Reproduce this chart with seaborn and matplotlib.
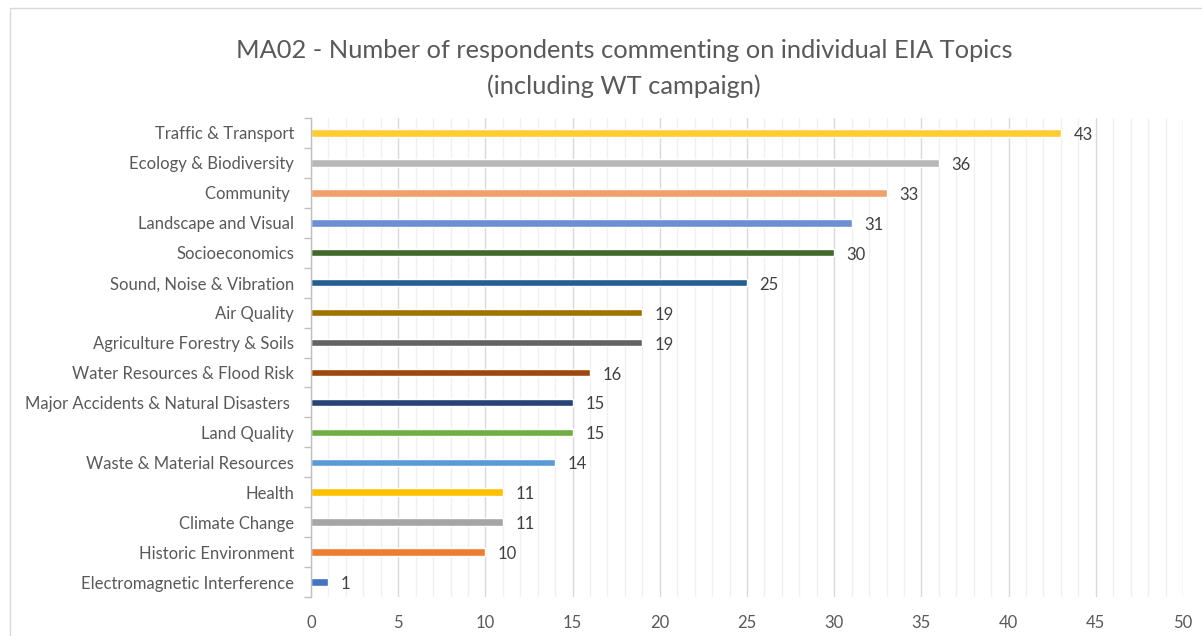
import matplotlib
matplotlib.use("Agg")
import matplotlib.pyplot as plt
from matplotlib.patches import Rectangle
from matplotlib.ticker import MultipleLocator, FixedLocator
import seaborn as sns
import pandas as pd

topics = [
    "Traffic & Transport",
    "Ecology & Biodiversity",
    "Community ",
    "Landscape and Visual",
    "Socioeconomics",
    "Sound, Noise & Vibration",
    "Air Quality",
    "Agriculture Forestry & Soils",
    "Water Resources & Flood Risk",
    "Major Accidents & Natural Disasters ",
    "Land Quality",
    "Waste & Material Resources",
    "Health",
    "Climate Change",
    "Historic Environment",
    "Electromagnetic Interference",
]
respondents = [43, 36, 33, 31, 30, 25, 19, 19, 16, 15, 15, 14, 11, 11, 10, 1]
bar_colors = [
    "#FFCD33", "#B7B7B7", "#F1A06B", "#6B8FD2", "#43682B", "#255E91",
    "#9E7300", "#636363", "#9E480E", "#264478", "#70AD47", "#5B9BD5",
    "#FFC000", "#A5A5A5", "#ED7D31", "#4472C4",
]
x_max = 50

sns.set_theme(style="white")
plt.rcParams["font.family"] = ["Lato", "DejaVu Sans"]

df = pd.DataFrame({"topic": topics, "count": respondents})

fig = plt.figure(figsize=(12.02, 6.36), dpi=100)
ax = fig.add_axes([311 / 1202, 1 - 597 / 636, 872 / 1202, 479 / 636])

# outer chart frame (runs off the right and bottom edges)
fig.patches.append(Rectangle((10 / 1202, -0.2), 1.2, 1.2 - 8 / 636,
                             transform=fig.transFigure, fill=False,
                             edgecolor="#D9D9D9", linewidth=1.0, zorder=0))

sns.barplot(data=df, x="count", y="topic", hue="topic", palette=bar_colors,
            orient="h", width=0.25, legend=False, ax=ax, saturation=1)

ax.set_xlim(0, x_max)
ax.set_ylim(len(topics) - 0.5, -0.5)
ax.xaxis.set_major_locator(MultipleLocator(5))
ax.xaxis.set_minor_locator(MultipleLocator(1))
ax.grid(which="major", axis="x", color="#D9D9D9", linewidth=1.0)
ax.grid(which="minor", axis="x", color="#F0F0F0", linewidth=1.0)
ax.set_axisbelow(True)

for s in ["top", "right", "bottom"]:
    ax.spines[s].set_visible(False)
ax.spines["left"].set_color("#BFBFBF")
ax.spines["left"].set_linewidth(1.0)

ax.yaxis.set_minor_locator(FixedLocator([i - 0.5 for i in range(len(topics) + 1)]))
ax.tick_params(axis="y", which="major", length=0, pad=12, labelsize=12, labelcolor="#595959")
ax.tick_params(axis="y", which="minor", length=5, width=1.0, color="#BFBFBF", left=True)
ax.tick_params(axis="x", which="both", length=0, pad=13, labelsize=12, labelcolor="#595959")

ax.set_xlabel("")
ax.set_ylabel("")

for i, v in enumerate(respondents):
    ax.annotate(str(v), xy=(v, i), xytext=(9, -1.5), textcoords="offset points",
                va="center", ha="left", fontsize=12, color="#404040")

fig.text(0.519, 1 - 50 / 636, "MA02 - Number of respondents commenting on individual EIA Topics",
         ha="center", va="center", fontsize=18.3, color="#595959")
fig.text(0.519, 1 - 86 / 636, "(including WT campaign)",
         ha="center", va="center", fontsize=18.3, color="#595959")

fig.savefig("out.png", dpi=100)
